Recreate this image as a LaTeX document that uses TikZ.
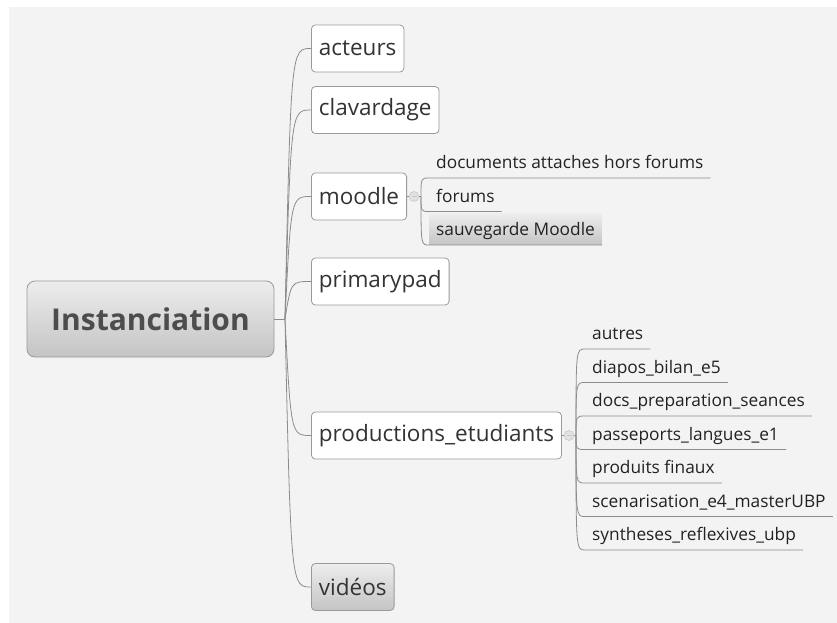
\documentclass[tikz,border=0pt]{standalone}
\usepackage{fontspec}
\setmainfont{Open Sans}
\usetikzlibrary{calc}
\definecolor{bg}{HTML}{F3F3F3}
\definecolor{boxborder}{HTML}{9A9A9A}
\definecolor{linec}{HTML}{8C8C8C}
\definecolor{topictext}{HTML}{333333}
\definecolor{subtext}{HTML}{222222}
\definecolor{centraltext}{HTML}{4D4D4D}
\definecolor{gradtop}{HTML}{EDEDED}
\definecolor{gradbot}{HTML}{C4C4C4}
\definecolor{circfill}{HTML}{E2E2E2}
\definecolor{circline}{HTML}{C8C8C8}
\tikzset{
  topic/.style={draw=boxborder, fill=white, rounded corners=4pt, line width=0.8pt,
    inner xsep=7.5pt, inner ysep=0pt, minimum height=47pt, anchor=west,
    font=\fontsize{22.5}{27}\selectfont, text=topictext},
  grad/.style={top color=gradtop, bottom color=gradbot},
  subtopic/.style={inner xsep=7pt, inner ysep=2pt, text height=20pt, text depth=7pt,
    anchor=south west, font=\fontsize{17.3}{21}\selectfont, text=subtext},
  conn/.style={draw=linec, line width=0.8pt},
  collapse/.style={circle, draw=circline, fill=circfill, minimum size=10pt, inner sep=0pt, line width=0.6pt}
}
\begin{document}
\begin{tikzpicture}[x=1pt,y=-1pt]
\useasboundingbox (0,0) rectangle (837,623);
\fill[white] (0,0) rectangle (837,623);
\fill[bg] (9,7) rectangle (837,623);

% central topic
\node[draw=boxborder, grad, rounded corners=8pt, line width=0.8pt, minimum width=247pt,
  minimum height=76pt, inner sep=0pt, font=\fontsize{30}{36}\selectfont\bfseries,
  text=centraltext] (central) at (150.5,319) {Instanciation};
\coordinate (hub) at (285,319);

% main topics
\node[topic] (acteurs) at (311,48.5) {acteurs};
\node[topic] (clavardage) at (311,110) {clavardage};
\node[topic] (moodle) at (311,196.5) {moodle};
\node[topic] (primarypad) at (311,281.5) {primarypad};
\node[topic] (productions) at (311,435.5) {productions\_etudiants};
\node[topic, grad] (videos) at (311,587) {vidéos};

\draw[conn] (central.east) -- (hub);
\foreach \t in {acteurs,clavardage,moodle,primarypad,productions,videos}
  \draw[conn] (hub) .. controls ([xshift=6pt]hub |- \t.west) .. (\t.west);

% moodle subtopics
\node[collapse] (mcirc) at (414,196.5) {};
\coordinate (mhub) at (421,196.5);
\node[subtopic] (m1) at (429,178) {documents attaches hors forums};
\node[subtopic] (m2) at (429,211.5) {forums};
\node[subtopic, grad] (m3) at (429,245) {sauvegarde Moodle};
\draw[conn] (moodle.east) -- (mcirc.west);
\draw[conn] (mcirc.east) -- (mhub);
\foreach \s in {m1,m2,m3}
  \draw[conn] (mhub) .. controls (mhub |- \s.south west) .. (\s.south west) -- (\s.south east);
\draw[circline, line width=0.8pt] ([xshift=-2.5pt]mcirc.center) -- ([xshift=2.5pt]mcirc.center);

% productions subtopics
\node[collapse] (pcirc) at (569,435.5) {};
\coordinate (phub) at (576,435.5);
\node[subtopic] (p1) at (585,349) {autres};
\node[subtopic] (p2) at (585,382.5) {diapos\_bilan\_e5};
\node[subtopic] (p3) at (585,416) {docs\_preparation\_seances};
\node[subtopic] (p4) at (585,449.5) {passeports\_langues\_e1};
\node[subtopic] (p5) at (585,483) {produits finaux};
\node[subtopic] (p6) at (585,516.5) {scenarisation\_e4\_masterUBP};
\node[subtopic] (p7) at (585,550) {syntheses\_reflexives\_ubp};
\draw[conn] (productions.east) -- (pcirc.west);
\draw[conn] (pcirc.east) -- (phub);
\foreach \s in {p1,p2,p3,p4,p5,p6,p7}
  \draw[conn] (phub) .. controls (phub |- \s.south west) .. (\s.south west) -- (\s.south east);
\draw[circline, line width=0.8pt] ([xshift=-2.5pt]pcirc.center) -- ([xshift=2.5pt]pcirc.center);
\end{tikzpicture}
\end{document}
